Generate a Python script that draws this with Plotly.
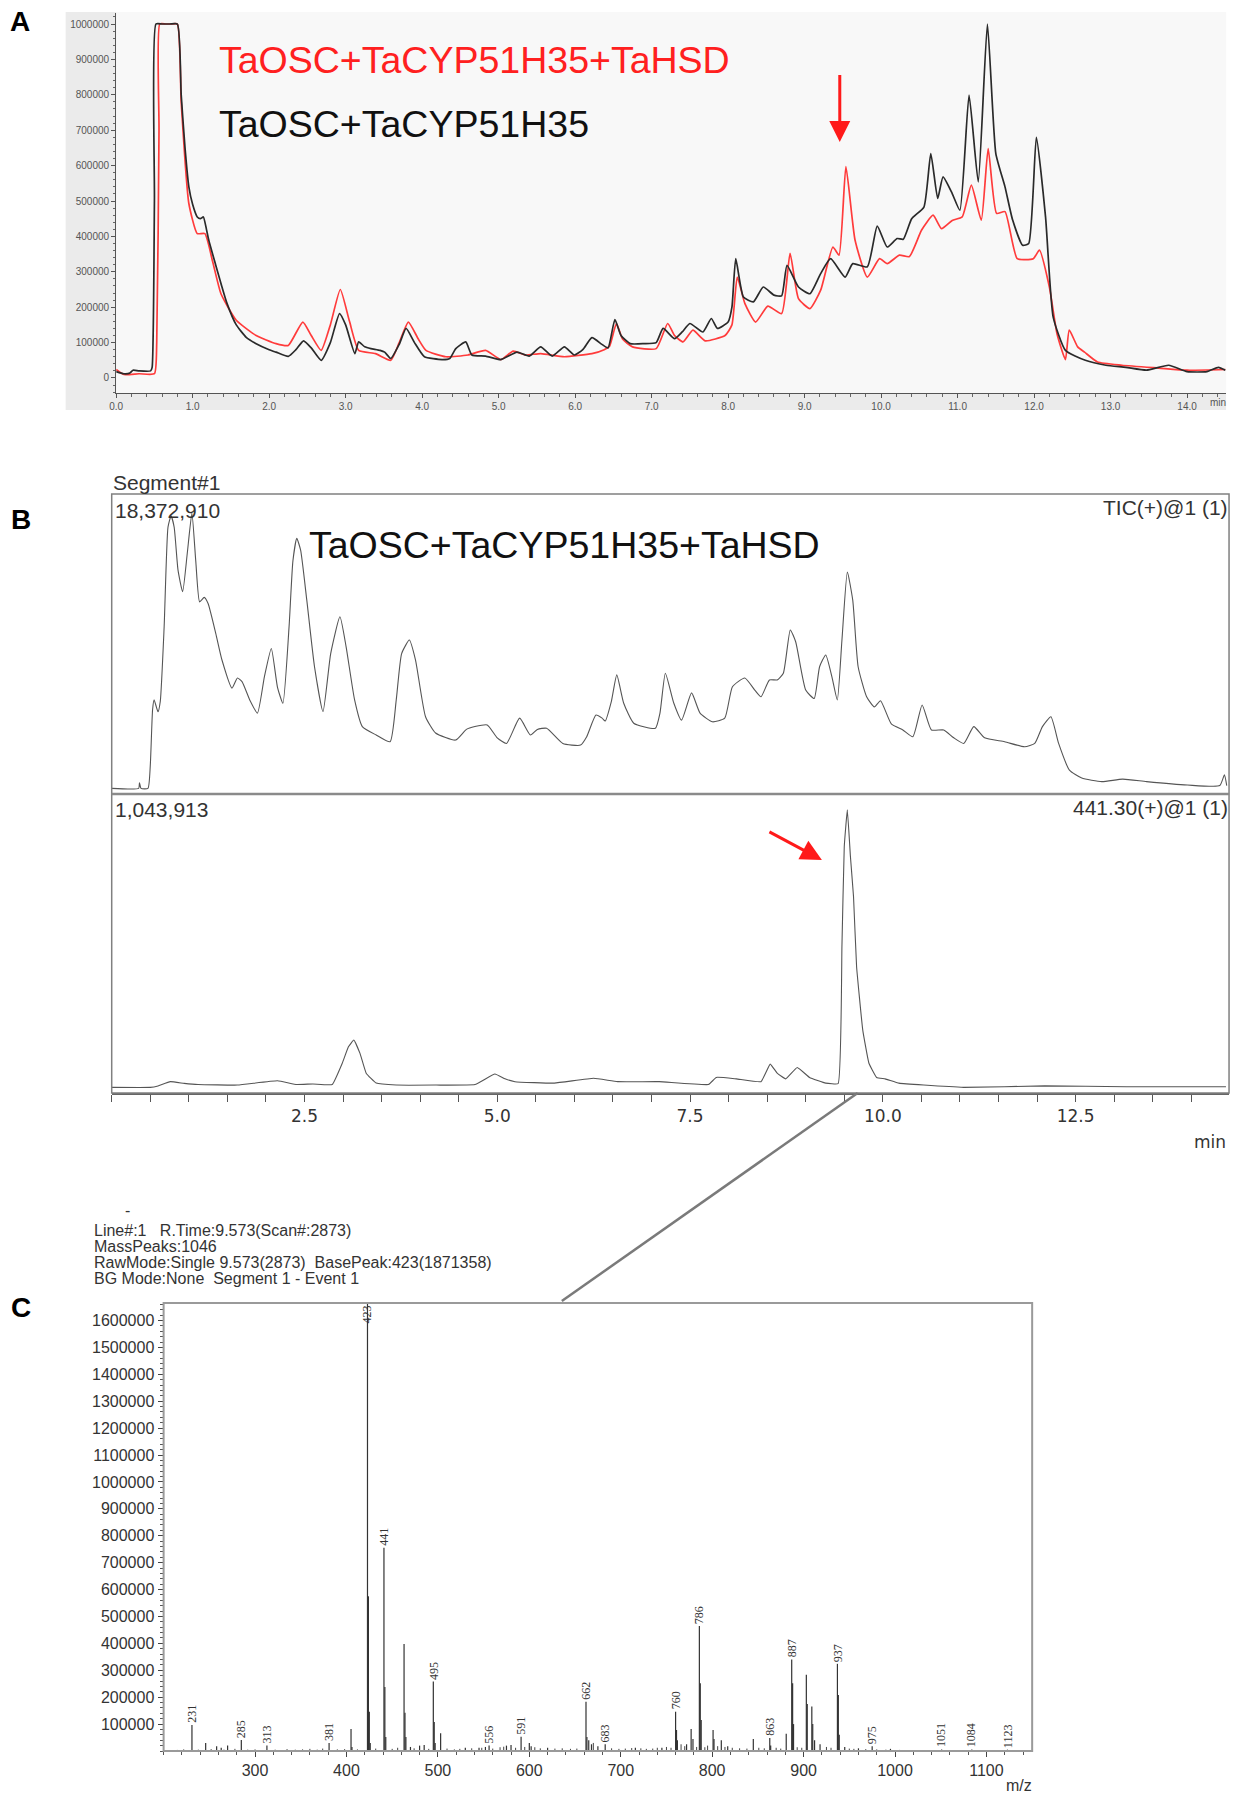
import plotly.graph_objects as go

W, H = 1236, 1798


def px(x):
    return x / W


def py(y):
    return 1 - y / H


# ---------------- Panel A: overlaid TIC chromatograms ----------------
a_black_t = [0.00, 0.10, 0.18, 0.22, 0.30, 0.45, 0.47, 0.50, 0.52, 0.60, 0.70, 0.80, 0.85, 0.90,
             0.95, 1.00, 1.06, 1.10, 1.14, 1.18, 1.21, 1.30, 1.37, 1.45, 1.57, 1.70, 1.83, 2.00,
             2.09, 2.25, 2.35, 2.45, 2.55, 2.68, 2.80, 2.92, 3.00, 3.12, 3.17, 3.25, 3.33, 3.45,
             3.51, 3.59, 3.70, 3.79, 3.90, 4.03, 4.26, 4.36, 4.44, 4.57, 4.65, 4.83, 5.03, 5.24,
             5.40, 5.55, 5.70, 5.86, 5.99, 6.10, 6.22, 6.35, 6.43, 6.52, 6.60, 6.72, 6.90, 7.06,
             7.15, 7.30, 7.40, 7.50, 7.67, 7.78, 7.86, 8.00, 8.05, 8.10, 8.20, 8.33, 8.46, 8.60,
             8.70, 8.77, 8.92, 9.07, 9.21, 9.34, 9.53, 9.63, 9.82, 9.95, 10.08, 10.21, 10.29,
             10.40, 10.56, 10.65, 10.74, 10.81, 10.93, 11.03, 11.15, 11.27, 11.39, 11.50, 11.62,
             11.72, 11.85, 11.93, 12.03, 12.15, 12.25, 12.41, 12.67, 12.94, 13.20, 13.47, 13.76,
             14.00, 14.26, 14.41, 14.50]
a_black_v = [18000, 12000, 14000, 22000, 20000, 20000, 30000, 500000, 1000000, 1000000, 1000000,
             1000000, 800000, 650000, 540000, 490000, 455000, 450000, 455000, 420000, 390000,
             320000, 267000, 210000, 150000, 115000, 97000, 80000, 73000, 61000, 80000, 105000,
             85000, 50000, 100000, 182000, 150000, 69000, 102000, 88000, 83000, 78000, 73000,
             55000, 95000, 140000, 100000, 60000, 52000, 55000, 83000, 102000, 65000, 62000,
             52000, 73000, 62000, 88000, 62000, 88000, 65000, 80000, 114000, 95000, 85000,
             165000, 120000, 97000, 97000, 100000, 140000, 111000, 130000, 154000, 130000,
             168000, 140000, 158000, 200000, 337000, 229000, 215000, 257000, 234000, 232000,
             318000, 257000, 238000, 295000, 337000, 285000, 323000, 314000, 429000, 370000,
             394000, 392000, 450000, 483000, 634000, 507000, 568000, 521000, 474000, 799000,
             554000, 1000000, 634000, 540000, 446000, 375000, 380000, 680000, 455000, 172000,
             78000, 50000, 36000, 30000, 22000, 36000, 18000, 18000, 30000, 22000]

a_red_t = [0.00, 0.10, 0.30, 0.50, 0.53, 0.56, 0.57, 0.65, 0.72, 0.80, 0.85, 0.95, 1.06, 1.16,
           1.26, 1.37, 1.57, 1.83, 2.09, 2.25, 2.44, 2.55, 2.68, 2.80, 2.93, 3.05, 3.17, 3.39,
           3.59, 3.70, 3.82, 3.95, 4.05, 4.31, 4.60, 4.83, 5.03, 5.19, 5.35, 5.55, 5.86, 6.22,
           6.38, 6.45, 6.54, 6.62, 6.75, 7.06, 7.21, 7.30, 7.41, 7.54, 7.70, 7.96, 8.05, 8.12,
           8.22, 8.36, 8.52, 8.70, 8.81, 8.92, 9.07, 9.21, 9.37, 9.45, 9.54, 9.66, 9.82, 9.98,
           10.08, 10.24, 10.37, 10.53, 10.68, 10.79, 10.93, 11.06, 11.18, 11.31, 11.40, 11.51,
           11.62, 11.78, 11.99, 12.07, 12.20, 12.30, 12.41, 12.46, 12.57, 12.66, 12.83, 13.15,
           13.63, 14.00, 14.50]
a_red_v = [24000, 10000, 12000, 12000, 100000, 700000, 1000000, 1000000, 1000000, 1000000,
           780000, 493000, 408000, 408000, 330000, 238000, 163000, 120000, 97000, 92000, 158000,
           120000, 78000, 150000, 250000, 160000, 78000, 69000, 50000, 100000, 158000, 110000,
           78000, 60000, 65000, 78000, 52000, 76000, 65000, 69000, 60000, 69000, 80000, 90000,
           154000, 110000, 88000, 83000, 154000, 120000, 102000, 135000, 105000, 120000, 150000,
           285000, 210000, 158000, 203000, 182000, 352000, 224000, 196000, 248000, 370000,
           347000, 597000, 389000, 285000, 337000, 323000, 347000, 343000, 418000, 460000,
           422000, 445000, 455000, 545000, 446000, 648000, 465000, 470000, 337000, 337000,
           361000, 257000, 125000, 52000, 135000, 88000, 73000, 45000, 36000, 28000, 22000,
           24000]

a_red_name = "TaOSC+TaCYP51H35+TaHSD"
a_black_name = "TaOSC+TaCYP51H35"
a_ticks_y = [0, 100000, 200000, 300000, 400000, 500000, 600000, 700000, 800000, 900000, 1000000]
a_ticks_x = [0.0, 1.0, 2.0, 3.0, 4.0, 5.0, 6.0, 7.0, 8.0, 9.0, 10.0, 11.0, 12.0, 13.0, 14.0]

# ---------------- Panel B: TIC and extracted ion chromatogram (% of max) ----------------
tic_t = [0.00, 0.35, 0.36, 0.38, 0.47, 0.50, 0.53, 0.55, 0.60, 0.63, 0.68, 0.73, 0.77, 0.81,
         0.86, 0.92, 0.98, 1.04, 1.09, 1.14, 1.20, 1.25, 1.35, 1.43, 1.56, 1.63, 1.69, 1.79,
         1.89, 1.98, 2.07, 2.15, 2.22, 2.30, 2.35, 2.40, 2.45, 2.53, 2.63, 2.74, 2.84, 2.96,
         3.04, 3.15, 3.25, 3.43, 3.61, 3.69, 3.76, 3.86, 3.94, 4.07, 4.20, 4.46, 4.60, 4.71,
         4.87, 5.00, 5.12, 5.29, 5.43, 5.52, 5.64, 5.85, 6.08, 6.16, 6.28, 6.36, 6.40, 6.48,
         6.55, 6.64, 6.77, 7.05, 7.11, 7.18, 7.29, 7.39, 7.52, 7.63, 7.79, 7.95, 8.05, 8.21,
         8.34, 8.42, 8.53, 8.63, 8.71, 8.80, 8.87, 9.00, 9.11, 9.18, 9.26, 9.34, 9.41, 9.47,
         9.54, 9.61, 9.68, 9.79, 9.89, 9.97, 10.11, 10.26, 10.39, 10.51, 10.63, 10.79, 10.92,
         11.05, 11.18, 11.32, 11.58, 11.84, 11.97, 12.07, 12.18, 12.28, 12.42, 12.58, 12.84,
         13.11, 13.42, 13.95, 14.37, 14.43, 14.46]
tic_pct = [2.0, 2.0, 4.0, 2.0, 2.0, 10.0, 30.0, 33.5, 29.3, 33.0, 59.5, 95.0, 99.0, 95.0,
           79.7, 72.0, 85.7, 100.0, 83.0, 68.4, 70.0, 67.8, 57.1, 47.7, 37.7, 41.3, 40.0, 33.5,
           28.8, 41.7, 51.8, 38.0, 32.3, 59.5, 83.0, 91.0, 86.8, 69.0, 45.3, 29.3, 50.0, 63.1,
           52.4, 33.5, 24.0, 21.0, 18.6, 33.5, 50.0, 54.8, 47.7, 27.5, 21.7, 19.2, 23.0, 24.0,
           24.6, 20.0, 18.0, 27.0, 21.0, 23.0, 23.4, 18.0, 17.4, 20.4, 28.1, 27.0, 26.0, 33.0,
           42.4, 32.3, 25.2, 23.4, 28.8, 43.0, 32.3, 26.3, 36.0, 28.8, 25.7, 27.0, 38.2, 41.3,
           37.0, 34.6, 40.6, 40.6, 43.0, 58.4, 54.2, 37.0, 34.0, 45.3, 49.5, 41.7, 33.5, 54.8,
           79.0, 69.0, 45.3, 34.6, 31.0, 33.2, 25.0, 22.8, 20.4, 31.7, 22.8, 22.8, 20.0,
           18.0, 24.0, 20.0, 18.6, 16.8, 18.0, 24.0, 27.5, 18.0, 8.5, 5.7, 4.4,
           5.3, 4.4, 3.2, 3.0, 6.8, 3.0]

eic_t = [0.00, 0.50, 0.60, 0.76, 0.94, 1.12, 1.63, 2.15, 2.40, 2.61, 2.86, 2.99, 3.07, 3.14,
         3.22, 3.30, 3.43, 3.69, 4.20, 4.71, 4.97, 5.10, 5.23, 5.74, 6.25, 6.56, 7.10, 7.74,
         7.84, 8.10, 8.42, 8.54, 8.63, 8.74, 8.89, 9.05, 9.26, 9.42, 9.47, 9.50, 9.54, 9.58,
         9.62, 9.66, 9.74, 9.82, 9.92, 10.03, 10.21, 10.53, 11.05, 12.10, 13.16, 14.45]
eic_pct = [2.0, 2.0, 2.5, 4.0, 3.4, 3.0, 2.8, 4.3, 3.0, 3.2, 3.0, 10.5, 16.3, 18.7,
           14.0, 7.0, 3.5, 2.8, 2.8, 3.0, 6.7, 5.0, 4.0, 3.5, 5.2, 4.0, 4.0, 3.0,
           5.5, 5.0, 4.0, 10.2, 7.0, 5.0, 9.0, 5.5, 3.5, 3.3, 52.0, 87.0, 100.0, 83.5,
           69.4, 44.6, 22.2, 10.5, 5.5, 5.0, 3.5, 2.8, 2.0, 2.5, 2.2, 2.2]

tic_max_label = "18,372,910"
eic_max_label = "1,043,913"
b_ticks = [2.5, 5.0, 7.5, 10.0, 12.5]

# ---------------- Panel C: mass spectrum at 9.573 min ----------------
labeled_mz = [231, 285, 313, 381, 423, 441, 495, 556, 591, 662, 683, 760, 786, 863, 887, 937,
              975, 1051, 1084, 1123]
labeled_int = [97000, 41000, 20000, 30000, 1871358, 755000, 258000, 20000, 53000, 183000, 25000,
               146000, 465000, 48000, 340000, 324000, 18000, 6000, 6000, 5000]

other_mz = [246, 258, 263, 270, 405, 406, 424, 425, 426, 442, 443, 463, 464, 465, 470, 480, 485,
            496, 497, 503, 530, 545, 552, 575, 580, 600, 602, 620, 663, 665, 668, 675, 716, 745,
            761, 762, 772, 777, 779, 787, 788, 801, 802, 810, 817, 845, 864, 881, 888, 889, 903,
            904, 909, 910, 912, 918, 938, 939, 945, 960, 995]
other_int = [30000, 18000, 12000, 20000, 82000, 15000, 575000, 146000, 30000, 238000, 52000,
             398000, 142000, 52000, 15000, 20000, 22000, 108000, 30000, 66000, 12000, 12000,
             15000, 20000, 22000, 30000, 18000, 12000, 52000, 40000, 25000, 18000, 12000, 12000,
             78000, 40000, 25000, 82000, 45000, 252000, 115000, 78000, 45000, 40000, 18000,
             45000, 20000, 64000, 252000, 100000, 283000, 175000, 165000, 100000, 40000, 25000,
             208000, 60000, 15000, 10000, 8000]

noise_mz = [215, 222, 238, 252, 266, 278, 292, 300, 322, 335, 344, 352, 360, 368, 374, 390, 398,
            412, 432, 450, 456, 474, 490, 510, 518, 524, 537, 548, 560, 568, 572, 585, 595, 606,
            612, 628, 636, 645, 652, 670, 690, 698, 705, 712, 722, 728, 735, 740, 750, 755, 766,
            770, 783, 792, 795, 806, 814, 822, 830, 838, 851, 857, 870, 875, 893, 898, 925, 930,
            950, 955, 968, 980, 990, 1005, 1020, 1040, 1060, 1075, 1095, 1110]
noise_int = [4000, 6000, 5000, 7000, 5000, 8000, 5000, 6000, 5000, 7000, 5000, 6000, 8000, 5000,
             9000, 6000, 7000, 6000, 9000, 8000, 12000, 10000, 8000, 9000, 6000, 8000, 10000,
             12000, 9000, 14000, 16000, 12000, 15000, 14000, 10000, 9000, 10000, 8000, 9000,
             30000, 10000, 8000, 9000, 11000, 10000, 8000, 9000, 12000, 15000, 12000, 25000,
             18000, 15000, 14000, 20000, 18000, 15000, 12000, 10000, 9000, 12000, 10000, 12000,
             9000, 14000, 12000, 15000, 12000, 9000, 8000, 7000, 6000, 5000, 4000, 3000, 3000,
             2500, 2500, 2500, 2000]

c_ticks_y = [100000, 200000, 300000, 400000, 500000, 600000, 700000, 800000, 900000, 1000000,
             1100000, 1200000, 1300000, 1400000, 1500000, 1600000]
c_ticks_x = [300, 400, 500, 600, 700, 800, 900, 1000, 1100]
C_YMAX = 1665000

header_lines = [
    "Line#:1\u00a0\u00a0\u00a0R.Time:9.573(Scan#:2873)",
    "MassPeaks:1046",
    "RawMode:Single 9.573(2873)\u00a0\u00a0BasePeak:423(1871358)",
    "BG Mode:None\u00a0\u00a0Segment 1 - Event 1",
]

# pixel geometry of the three panels
A_L, A_R, A_T, A_B, A_BG_L, A_BG_B = 109.8, 1226, 12, 393, 59, 410
B_L, B_R, B_T, B_MID, B_B = 105.3, 1229, 494, 794, 1093
C_L, C_R, C_T, C_B = 157.5, 1031, 1303, 1751


def stems(mz, inten):
    xs, ys = [], []
    for m, v in zip(mz, inten):
        xs += [m, m, None]
        ys += [0, v, None]
    return xs, ys


fig = go.Figure()

# Panel A traces
fig.add_trace(go.Scatter(x=a_red_t, y=a_red_v, mode="lines", name=a_red_name,
                         line=dict(color="#ff3b3b", width=1.7, shape="spline", smoothing=0.5),
                         xaxis="x", yaxis="y"))
fig.add_trace(go.Scatter(x=a_black_t, y=a_black_v, mode="lines", name=a_black_name,
                         line=dict(color="#2a2a2a", width=1.7, shape="spline", smoothing=0.5),
                         xaxis="x", yaxis="y"))

# Panel B traces
fig.add_trace(go.Scatter(x=tic_t, y=tic_pct, mode="lines", name="TIC",
                         line=dict(color="#555555", width=1.1, shape="spline", smoothing=0.5),
                         xaxis="x2", yaxis="y2"))
fig.add_trace(go.Scatter(x=eic_t, y=eic_pct, mode="lines", name="441.30",
                         line=dict(color="#555555", width=1.1, shape="spline", smoothing=0.3),
                         xaxis="x3", yaxis="y3"))

# Panel C stems
for mz, inten, col, w in [(noise_mz, noise_int, "#444444", 1.0),
                          (other_mz, other_int, "#333333", 1.2),
                          (labeled_mz, labeled_int, "#333333", 1.2)]:
    sx, sy = stems(mz, inten)
    fig.add_trace(go.Scatter(x=sx, y=sy, mode="lines", line=dict(color=col, width=w),
                             xaxis="x4", yaxis="y4", connectgaps=False))

font_a = dict(family="Liberation Sans, Arial", size=10, color="#555555")
font_b = dict(family="Liberation Sans, Arial", size=21, color="#333333")
font_bt = dict(family="DejaVu Sans", size=17, color="#333333")
font_c = dict(family="Liberation Sans, Arial", size=16, color="#333333")

layout = dict(
    width=W, height=H,
    margin=dict(l=0, r=0, t=0, b=0),
    paper_bgcolor="white",
    plot_bgcolor="rgba(0,0,0,0)",
    showlegend=False,
    xaxis=dict(domain=[px(A_L), px(A_R)], range=[0, 14.51], anchor="y",
               tickmode="array", tickvals=a_ticks_x, ticktext=[f"{v:.1f}" for v in a_ticks_x],
               ticks="outside", ticklen=4, tickcolor="#555", tickfont=font_a,
               minor=dict(ticks="outside", dtick=0.2, tick0=0, ticklen=2.5, tickcolor="#666"),
               showline=True, linecolor="#555", linewidth=1.2, showgrid=False, zeroline=False),
    yaxis=dict(domain=[py(A_B), py(A_T + 1)], range=[-42400, 1031100], anchor="x",
               tickmode="array", tickvals=a_ticks_y, ticktext=[str(v) for v in a_ticks_y],
               ticks="outside", ticklen=4, tickcolor="#555", tickfont=font_a,
               minor=dict(ticks="outside", dtick=20000, tick0=0, ticklen=2.5, tickcolor="#666"),
               showline=True, linecolor="#555", linewidth=1.2, showgrid=False, zeroline=False),
    xaxis2=dict(domain=[px(B_L), px(B_R)], range=[0, 14.49], anchor="y2", visible=False),
    yaxis2=dict(domain=[py(B_MID), py(B_T)], range=[0, 106.8], anchor="x2", visible=False),
    xaxis3=dict(domain=[px(B_L), px(B_R)], range=[0, 14.49], anchor="y3",
                tickmode="array", tickvals=b_ticks, ticktext=[f"{v:.1f}" for v in b_ticks],
                ticks="outside", ticklen=7, tickcolor="#555", tickfont=font_bt,
                minor=dict(ticks="outside", dtick=0.5, tick0=0, ticklen=7, tickcolor="#555"),
                showline=True, linecolor="#666", linewidth=2, showgrid=False, zeroline=False),
    yaxis3=dict(domain=[py(B_B), py(B_MID)], range=[0, 105.6], anchor="x3", visible=False),
    xaxis4=dict(domain=[px(C_L), px(C_R)], range=[200, 1150], anchor="y4",
                tickmode="array", tickvals=c_ticks_x, ticktext=[str(v) for v in c_ticks_x],
                ticks="outside", ticklen=5, tickcolor="#444",
                tickfont=dict(family="Liberation Sans, Arial", size=16, color="#333"),
                minor=dict(ticks="outside", dtick=20, tick0=200, ticklen=3, tickcolor="#555"),
                showline=True, linecolor="#444", linewidth=1.2, showgrid=False, zeroline=False),
    yaxis4=dict(domain=[py(C_B), py(C_T)], range=[0, C_YMAX], anchor="x4",
                tickmode="array", tickvals=c_ticks_y, ticktext=[str(v) for v in c_ticks_y],
                ticks="outside", ticklen=5, tickcolor="#444",
                tickfont=dict(family="Liberation Sans, Arial", size=16, color="#333"),
                minor=dict(ticks="outside", dtick=20000, tick0=0, ticklen=3, tickcolor="#555"),
                showline=True, linecolor="#444", linewidth=1.2, showgrid=False, zeroline=False),
)

shapes = [
    # panel A background
    dict(type="rect", xref="paper", yref="paper", x0=px(A_BG_L), x1=px(A_R), y0=py(A_BG_B),
         y1=py(A_T), fillcolor="#ebebeb", line=dict(width=0), layer="below"),
    dict(type="rect", xref="paper", yref="paper", x0=px(A_L), x1=px(A_R), y0=py(A_B), y1=py(A_T),
         fillcolor="#f8f8f8", line=dict(width=0), layer="below"),
    # panel B frames
    dict(type="rect", xref="paper", yref="paper", x0=px(B_L), x1=px(B_R), y0=py(B_B), y1=py(B_T),
         line=dict(color="#808080", width=1.5)),
    dict(type="line", xref="paper", yref="paper", x0=px(B_L), x1=px(B_R), y0=py(B_MID),
         y1=py(B_MID), line=dict(color="#8a8a8a", width=2.5)),
    # panel C frame
    dict(type="rect", xref="paper", yref="paper", x0=px(C_L), x1=px(C_R), y0=py(C_B), y1=py(C_T),
         line=dict(color="#9a9a9a", width=2)),
    # link from the selected scan to the spectrum
    dict(type="line", xref="paper", yref="paper", x0=px(855.5), y0=py(B_B), x1=px(558), y1=py(C_T - 2),
         line=dict(color="#7a7a7a", width=2.5)),
]


def txt(x, y, text, font, xanchor="left", yanchor="middle"):
    return dict(xref="paper", yref="paper", x=px(x), y=py(y), text=text, showarrow=False,
                xanchor=xanchor, yanchor=yanchor, font=font, borderpad=0)


big = dict(family="Liberation Sans, Arial", size=37.5)
bold = dict(family="Liberation Sans, Arial", size=28, color="black")
annotations = [
    txt(13, 21, "<b>A</b>", bold, "center"),
    txt(14, 519, "<b>B</b>", bold, "center"),
    txt(14, 1307, "<b>C</b>", bold, "center"),
    txt(212.5, 60, a_red_name, dict(big, color="#ff2020")),
    txt(212.5, 124, a_black_name, dict(big, color="#111111")),
    txt(1218, 402, "min", font_a, "center"),
    txt(302.5, 545, a_red_name, dict(big, color="#111111")),
    txt(105.5, 482, "Segment#1", font_b),
    txt(107.5, 510, tic_max_label, font_b),
    txt(B_R, 508, "TIC(+)@1 (1)", font_b, "right"),
    txt(107.5, 809, eic_max_label, font_b),
    txt(B_R, 808, "441.30(+)@1 (1)", font_b, "right"),
    txt(1210, 1142, "min", font_bt, "center"),
    txt(121, 1210, "-", font_c, "center"),
    txt(1018, 1785, "m/z", font_c, "center"),
]
for i, line in enumerate(header_lines):
    annotations.append(txt(86, 1230 + 16 * i, line, font_c))

# red arrows marking the product peak
annotations.append(dict(xref="x", yref="y", axref="x", ayref="y", x=9.46, y=667000, ax=9.46,
                        ay=860000, text="", showarrow=True, arrowhead=2, arrowsize=1.4,
                        arrowwidth=3, arrowcolor="#ff1a1a"))
annotations.append(dict(xref="x3", yref="y3", axref="x3", ayref="y3", x=9.21, y=82.3, ax=8.51,
                        ay=92.5, text="", showarrow=True, arrowhead=2, arrowsize=1.4,
                        arrowwidth=3, arrowcolor="#ff1a1a"))

# m/z labels above the labelled peaks
for m, v in zip(labeled_mz, labeled_int):
    top = v >= C_YMAX
    annotations.append(dict(xref="x4", yref="y4", x=m, y=(C_YMAX if top else v), text=str(m),
                            textangle=-90, showarrow=False, xanchor="center",
                            yanchor=("top" if top else "bottom"), yshift=(-1 if top else 1),
                            borderpad=0,
                            font=dict(family="Liberation Serif, Times New Roman", size=12,
                                      color="#333333")))

layout["shapes"] = shapes
layout["annotations"] = annotations
fig.update_layout(**layout)

fig.write_html("out.html")
